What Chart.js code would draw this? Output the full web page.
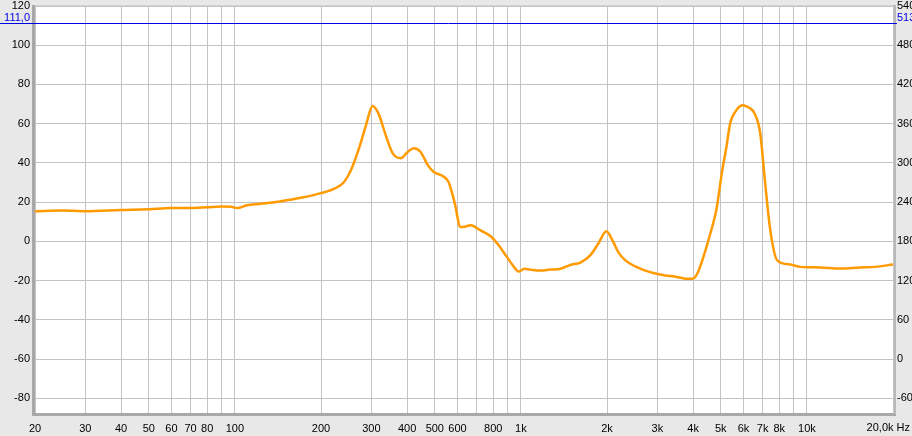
<!DOCTYPE html>
<html>
<head>
<meta charset="utf-8">
<script src="https://cdn.jsdelivr.net/npm/chart.js@4.4.1/dist/chart.umd.min.js"></script>
<style>
    html, body { margin: 0; padding: 0; background: #e8e8e8; }
    #wrap { width: 912px; height: 436px; }
</style>
</head>
<body>
<div id="wrap"><canvas id="chart" width="912" height="436"></canvas></div>
<script>
// frequency response
const freqs = [20, 25, 30, 40, 50, 60, 70, 80, 90, 97, 102, 110, 123, 145, 170, 200, 225, 240, 254, 271,
    287, 303, 318, 337, 356, 380, 402, 422, 446, 472, 495, 537, 558, 586, 615, 636, 667, 723, 784, 836,
    884, 935, 981, 1028, 1079, 1170, 1268, 1374, 1490, 1615, 1750, 1867, 1990, 2090, 2193, 2319, 2513, 2724, 2953, 3200,
    3469, 3759, 3976, 4140, 4345, 4595, 4822, 5060, 5225, 5397, 5614, 5944, 6340, 6547, 6869, 7145, 7449, 7875, 8748, 9480,
    11130, 13070, 15350, 17320, 20000];
const magnitudes = [15.4, 15.7, 15.4, 16, 16.4, 17, 17, 17.4, 17.8, 17.6, 17.0, 18.4, 19.2, 20.5, 22.2, 24.6, 27.2, 30, 36, 47,
    59, 69, 65, 54, 45, 42.4, 45.6, 47.5, 45.6, 39, 35.5, 33, 30.4, 20, 7.3, 7.5, 8.2, 5.6, 2.6, -2,
    -7, -12, -15.4, -14, -14.4, -14.9, -14.4, -14, -12, -10.8, -7, -1, 5.1, 0.5, -5.6, -9.7, -12.8, -14.9, -16.4, -17.4,
    -18, -19, -19.1, -16.4, -8, 4, 16, 36.4, 47.7, 60.5, 66, 69.4, 67.7, 65.5, 55, 29.7, 5.6, -9.7, -11.8, -13,
    -13.3, -13.8, -13.3, -13, -11.8];

// axes
const xTicks = [20, 30, 40, 50, 60, 70, 80, 90, 100, 200, 300, 400, 500, 600, 700, 800, 900, 1000,
    2000, 3000, 4000, 5000, 6000, 7000, 8000, 9000, 10000, 20000];
const xLabels = ['20', '30', '40', '50', '60', '70', '80', '', '100', '200', '300', '400', '500', '600', '', '800', '', '1k',
    '2k', '3k', '4k', '5k', '6k', '7k', '8k', '', '10k', ''];
const yTicks = [-80, -60, -40, -20, 0, 20, 40, 60, 80, 100, 120];
const y2Ticks = [-60, 0, 60, 120, 180, 240, 300, 360, 420, 480, 540];
const markerLevel = 111;
const markerLevel2 = 513;

const FONT = 'Liberation Sans';

const framePlugin = {
    id: 'frame',
    beforeDraw(chart) {
        const { ctx, chartArea: a } = chart;
        ctx.save();
        ctx.fillStyle = '#e8e8e8';
        ctx.fillRect(0, 0, chart.width, chart.height);
        // plot border
        ctx.fillStyle = '#a8a8a8';
        ctx.fillRect(a.left - 3, a.top - 1, 3, a.bottom - a.top + 4);
        ctx.fillRect(a.left - 3, a.bottom, a.right - a.left + 6, 3);
        ctx.fillStyle = '#b8b8b8';
        ctx.fillRect(a.right, a.top - 1, 3, a.bottom - a.top + 2);
        ctx.fillStyle = '#d0d0d0';
        ctx.fillRect(a.left, a.top - 1, a.right - a.left, 1);
        ctx.fillStyle = '#ffffff';
        ctx.fillRect(a.left, a.top, a.right - a.left, a.bottom - a.top);
        ctx.restore();
    },
    afterDraw(chart) {
        const { ctx, chartArea: a } = chart;
        const y = Math.round(chart.scales.y.getPixelForValue(markerLevel)) - 0.5;
        ctx.save();
        ctx.strokeStyle = '#0000e6';
        ctx.lineWidth = 1;
        ctx.beginPath();
        ctx.moveTo(0, y);
        ctx.lineTo(a.right + 4, y);
        ctx.stroke();
        ctx.font = '11px ' + FONT;
        ctx.fillStyle = '#0000e6';
        ctx.textBaseline = 'bottom';
        ctx.textAlign = 'right';
        ctx.fillText('111,0', a.left - 5, y);
        ctx.textAlign = 'left';
        ctx.fillText(String(markerLevel2), a.right + 4, y);
        ctx.fillStyle = '#000';
        ctx.textAlign = 'right';
        ctx.textBaseline = 'middle';
        ctx.fillText('20,0k Hz', 910, 428);
        ctx.restore();
    }
};

new Chart(document.getElementById('chart'), {
    type: 'line',
    data: {
        datasets: [{
            data: freqs.map((f, i) => ({ x: f, y: magnitudes[i] })),
            borderColor: '#ff9a00',
            borderWidth: 2.5,
            pointRadius: 0,
            cubicInterpolationMode: 'monotone',
            fill: false
        }]
    },
    options: {
        responsive: false,
        animation: false,
        layout: { padding: { top: 6, left: 0, right: 0, bottom: 0 } },
        plugins: { legend: { display: false }, tooltip: { enabled: false } },
        scales: {
            x: {
                type: 'logarithmic',
                min: 20,
                max: 20000,
                afterBuildTicks: s => { s.ticks = xTicks.map(v => ({ value: v })); },
                afterFit: s => { s.height = 23; s.paddingLeft = 0; s.paddingRight = 0; },
                grid: { color: '#c4c4c4', drawTicks: false },
                border: { display: false },
                ticks: {
                    autoSkip: false,
                    maxRotation: 0,
                    padding: 9,
                    color: '#000',
                    font: { family: FONT, size: 11 },
                    callback: (v, i) => xLabels[i]
                }
            },
            y: {
                position: 'left',
                min: -87.5,
                max: 120,
                afterBuildTicks: s => { s.ticks = yTicks.map(v => ({ value: v })); },
                afterFit: s => { s.width = 35; s.paddingTop = 0; s.paddingBottom = 0; },
                grid: { color: '#c4c4c4', drawTicks: false },
                border: { display: false },
                ticks: { padding: 5, color: '#000', font: { family: FONT, size: 11 } }
            },
            y2: {
                position: 'right',
                min: -82.5,
                max: 540,
                afterBuildTicks: s => { s.ticks = y2Ticks.map(v => ({ value: v })); },
                afterFit: s => { s.width = 19; s.paddingTop = 0; s.paddingBottom = 0; },
                grid: { display: false, drawTicks: false },
                border: { display: false },
                ticks: { padding: 4, color: '#000', font: { family: FONT, size: 11 } }
            }
        }
    },
    plugins: [framePlugin]
});
</script>
</body>
</html>
